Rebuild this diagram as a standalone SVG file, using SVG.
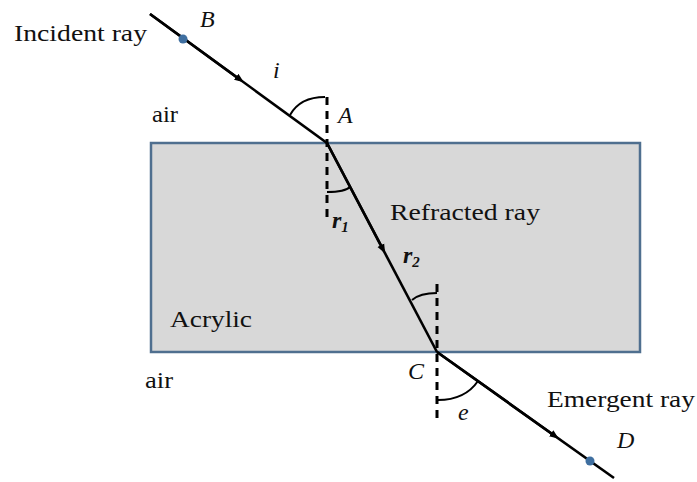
<svg xmlns="http://www.w3.org/2000/svg" width="697" height="482" viewBox="0 0 697 482">
<defs>
<style>
.t{font-family:"Liberation Serif","Times New Roman",serif;font-size:24px;fill:#111}
.it{font-style:italic}
.ray{stroke:#000;stroke-width:2.6;fill:none}
.nrm{stroke:#000;stroke-width:3;stroke-dasharray:8,6;fill:none}
.arc{stroke:#000;stroke-width:2;fill:none}
.dot{fill:#3f6fa0}
</style>
<marker id="ah" viewBox="0 0 10 10" refX="5" refY="5" markerWidth="3.6" markerHeight="3.6" orient="auto"><path d="M0,1 L10,5 L0,9 Z" fill="#000"/></marker>
</defs>
<rect width="697" height="482" fill="#fff"/>
<g id="block">
<rect x="151" y="143" width="489" height="209" fill="#d8d8d8" stroke="#4f6f8f" stroke-width="2.5"/>
<text class="t" x="170" y="327" textLength="82" lengthAdjust="spacingAndGlyphs">Acrylic</text>
</g>
<g id="connectors">
<path class="ray" d="M150,14 L327,143" />
<path class="ray" d="M150,14 L240,79.6" marker-end="url(#ah)"/>
<path class="ray" d="M327,143 L437,352"/>
<path class="ray" d="M327,143 L383,249.4" marker-end="url(#ah)"/>
<path class="ray" d="M437,352 L614,478"/>
<path class="ray" d="M437,352 L555,436" marker-end="url(#ah)"/>
<path class="nrm" d="M327,97 V223"/>
<path class="nrm" d="M437,284 V420"/>
<path class="arc" d="M290,115 Q300,97 325,97"/>
<path class="arc" d="M327,192 Q345,192 350,187"/>
<path class="arc" d="M412,300 Q420,293 437,293"/>
<path class="arc" d="M478,381 Q465,400 438,400"/>
</g>
<g id="B"><circle class="dot" cx="183" cy="39" r="4.5"/><text class="t it" x="200" y="27">B</text></g>
<g id="D"><circle class="dot" cx="590" cy="461" r="4.5"/><text class="t it" x="617" y="448">D</text></g>
<g id="A"><text class="t it" x="338" y="123">A</text></g>
<g id="C"><text class="t it" x="408" y="379">C</text></g>
<g id="labels">
<text class="t" x="14" y="41" textLength="133" lengthAdjust="spacingAndGlyphs">Incident ray</text>
<text class="t it" x="273" y="78">i</text>
<text class="t" x="152" y="122" textLength="26" lengthAdjust="spacingAndGlyphs">air</text>
<text class="t" x="390" y="220" textLength="150" lengthAdjust="spacingAndGlyphs">Refracted ray</text>
<text class="t it" x="332" y="228" font-weight="bold">r<tspan font-size="15" dy="4">1</tspan></text>
<text class="t it" x="403" y="263" font-weight="bold">r<tspan font-size="15" dy="4">2</tspan></text>
<text class="t" x="145" y="388" textLength="28" lengthAdjust="spacingAndGlyphs">air</text>
<text class="t it" x="458" y="420">e</text>
<text class="t" x="547" y="407" textLength="148" lengthAdjust="spacingAndGlyphs">Emergent ray</text>
</g>
</svg>
